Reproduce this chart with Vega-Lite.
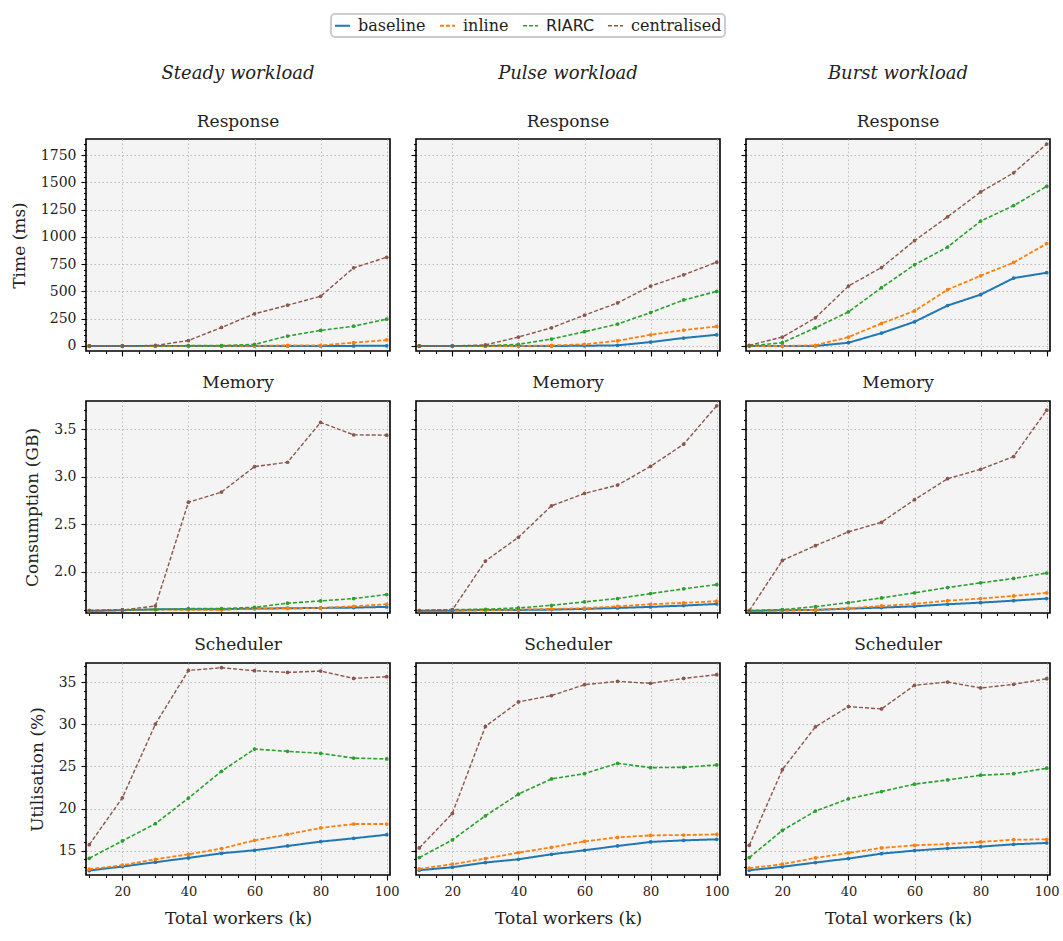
{
  "$schema": "https://vega.github.io/schema/vega-lite/v6.json",
  "background": "white",
  "padding": {"left": 9, "top": 13, "right": 2, "bottom": 5},
  "datasets": {
    "d": [
      {"w":"Steady","m":"Response","x":10,"baseline":0,"inline":0,"RIARC":0,"centralised":0},
      {"w":"Steady","m":"Response","x":20,"baseline":0,"inline":0,"RIARC":0,"centralised":0},
      {"w":"Steady","m":"Response","x":30,"baseline":0,"inline":0,"RIARC":2,"centralised":5},
      {"w":"Steady","m":"Response","x":40,"baseline":0,"inline":0,"RIARC":3,"centralised":50},
      {"w":"Steady","m":"Response","x":50,"baseline":0,"inline":2,"RIARC":3,"centralised":170},
      {"w":"Steady","m":"Response","x":60,"baseline":0,"inline":2,"RIARC":15,"centralised":295},
      {"w":"Steady","m":"Response","x":70,"baseline":0,"inline":5,"RIARC":91,"centralised":374},
      {"w":"Steady","m":"Response","x":80,"baseline":1,"inline":6,"RIARC":143,"centralised":456},
      {"w":"Steady","m":"Response","x":90,"baseline":1,"inline":30,"RIARC":182,"centralised":717},
      {"w":"Steady","m":"Response","x":100,"baseline":2,"inline":55,"RIARC":246,"centralised":814},
      {"w":"Pulse","m":"Response","x":10,"baseline":0,"inline":0,"RIARC":0,"centralised":0},
      {"w":"Pulse","m":"Response","x":20,"baseline":0,"inline":0,"RIARC":0,"centralised":0},
      {"w":"Pulse","m":"Response","x":30,"baseline":0,"inline":0,"RIARC":3,"centralised":10},
      {"w":"Pulse","m":"Response","x":40,"baseline":0,"inline":0,"RIARC":15,"centralised":82},
      {"w":"Pulse","m":"Response","x":50,"baseline":0,"inline":5,"RIARC":64,"centralised":167},
      {"w":"Pulse","m":"Response","x":60,"baseline":2,"inline":15,"RIARC":131,"centralised":283},
      {"w":"Pulse","m":"Response","x":70,"baseline":6,"inline":48,"RIARC":201,"centralised":395},
      {"w":"Pulse","m":"Response","x":80,"baseline":36,"inline":103,"RIARC":307,"centralised":550},
      {"w":"Pulse","m":"Response","x":90,"baseline":73,"inline":146,"RIARC":422,"centralised":653},
      {"w":"Pulse","m":"Response","x":100,"baseline":103,"inline":179,"RIARC":501,"centralised":769},
      {"w":"Burst","m":"Response","x":10,"baseline":0,"inline":0,"RIARC":0,"centralised":6},
      {"w":"Burst","m":"Response","x":20,"baseline":0,"inline":0,"RIARC":30,"centralised":82},
      {"w":"Burst","m":"Response","x":30,"baseline":0,"inline":6,"RIARC":167,"centralised":258},
      {"w":"Burst","m":"Response","x":40,"baseline":30,"inline":82,"RIARC":313,"centralised":550},
      {"w":"Burst","m":"Response","x":50,"baseline":118,"inline":207,"RIARC":535,"centralised":720},
      {"w":"Burst","m":"Response","x":60,"baseline":222,"inline":322,"RIARC":745,"centralised":966},
      {"w":"Burst","m":"Response","x":70,"baseline":371,"inline":517,"RIARC":908,"centralised":1185},
      {"w":"Burst","m":"Response","x":80,"baseline":471,"inline":644,"RIARC":1146,"centralised":1413},
      {"w":"Burst","m":"Response","x":90,"baseline":623,"inline":766,"RIARC":1288,"centralised":1589},
      {"w":"Burst","m":"Response","x":100,"baseline":672,"inline":939,"RIARC":1465,"centralised":1853},
      {"w":"Steady","m":"Memory","x":10,"baseline":1.589,"inline":1.592,"RIARC":1.592,"centralised":1.592},
      {"w":"Steady","m":"Memory","x":20,"baseline":1.596,"inline":1.597,"RIARC":1.599,"centralised":1.599},
      {"w":"Steady","m":"Memory","x":30,"baseline":1.606,"inline":1.603,"RIARC":1.603,"centralised":1.641},
      {"w":"Steady","m":"Memory","x":40,"baseline":1.606,"inline":1.600,"RIARC":1.613,"centralised":2.732},
      {"w":"Steady","m":"Memory","x":50,"baseline":1.606,"inline":1.600,"RIARC":1.613,"centralised":2.838},
      {"w":"Steady","m":"Memory","x":60,"baseline":1.613,"inline":1.613,"RIARC":1.627,"centralised":3.106},
      {"w":"Steady","m":"Memory","x":70,"baseline":1.617,"inline":1.615,"RIARC":1.670,"centralised":3.152},
      {"w":"Steady","m":"Memory","x":80,"baseline":1.620,"inline":1.620,"RIARC":1.694,"centralised":3.571},
      {"w":"Steady","m":"Memory","x":90,"baseline":1.624,"inline":1.637,"RIARC":1.719,"centralised":3.440},
      {"w":"Steady","m":"Memory","x":100,"baseline":1.631,"inline":1.659,"RIARC":1.761,"centralised":3.437},
      {"w":"Pulse","m":"Memory","x":10,"baseline":1.589,"inline":1.592,"RIARC":1.592,"centralised":1.592},
      {"w":"Pulse","m":"Memory","x":20,"baseline":1.592,"inline":1.599,"RIARC":1.603,"centralised":1.599},
      {"w":"Pulse","m":"Memory","x":30,"baseline":1.599,"inline":1.594,"RIARC":1.606,"centralised":2.113},
      {"w":"Pulse","m":"Memory","x":40,"baseline":1.599,"inline":1.603,"RIARC":1.620,"centralised":2.363},
      {"w":"Pulse","m":"Memory","x":50,"baseline":1.603,"inline":1.610,"RIARC":1.648,"centralised":2.694},
      {"w":"Pulse","m":"Memory","x":60,"baseline":1.610,"inline":1.617,"RIARC":1.684,"centralised":2.824},
      {"w":"Pulse","m":"Memory","x":70,"baseline":1.620,"inline":1.637,"RIARC":1.719,"centralised":2.912},
      {"w":"Pulse","m":"Memory","x":80,"baseline":1.631,"inline":1.659,"RIARC":1.771,"centralised":3.109},
      {"w":"Pulse","m":"Memory","x":90,"baseline":1.645,"inline":1.673,"RIARC":1.821,"centralised":3.342},
      {"w":"Pulse","m":"Memory","x":100,"baseline":1.662,"inline":1.691,"RIARC":1.866,"centralised":3.746},
      {"w":"Burst","m":"Memory","x":10,"baseline":1.589,"inline":1.592,"RIARC":1.592,"centralised":1.592},
      {"w":"Burst","m":"Memory","x":20,"baseline":1.596,"inline":1.592,"RIARC":1.603,"centralised":2.120},
      {"w":"Burst","m":"Memory","x":30,"baseline":1.599,"inline":1.599,"RIARC":1.634,"centralised":2.275},
      {"w":"Burst","m":"Memory","x":40,"baseline":1.613,"inline":1.617,"RIARC":1.676,"centralised":2.420},
      {"w":"Burst","m":"Memory","x":50,"baseline":1.624,"inline":1.641,"RIARC":1.726,"centralised":2.521},
      {"w":"Burst","m":"Memory","x":60,"baseline":1.637,"inline":1.662,"RIARC":1.779,"centralised":2.758},
      {"w":"Burst","m":"Memory","x":70,"baseline":1.659,"inline":1.697,"RIARC":1.835,"centralised":2.979},
      {"w":"Burst","m":"Memory","x":80,"baseline":1.676,"inline":1.719,"RIARC":1.884,"centralised":3.078},
      {"w":"Burst","m":"Memory","x":90,"baseline":1.697,"inline":1.747,"RIARC":1.930,"centralised":3.212},
      {"w":"Burst","m":"Memory","x":100,"baseline":1.719,"inline":1.779,"RIARC":1.987,"centralised":3.700},
      {"w":"Steady","m":"Scheduler","x":10,"baseline":12.63,"inline":12.79,"RIARC":14.09,"centralised":15.71},
      {"w":"Steady","m":"Scheduler","x":20,"baseline":13.11,"inline":13.26,"RIARC":16.15,"centralised":21.27},
      {"w":"Steady","m":"Scheduler","x":30,"baseline":13.62,"inline":13.97,"RIARC":18.20,"centralised":30.03},
      {"w":"Steady","m":"Scheduler","x":40,"baseline":14.13,"inline":14.56,"RIARC":21.24,"centralised":36.42},
      {"w":"Steady","m":"Scheduler","x":50,"baseline":14.68,"inline":15.24,"RIARC":24.43,"centralised":36.74},
      {"w":"Steady","m":"Scheduler","x":60,"baseline":15.04,"inline":16.22,"RIARC":27.07,"centralised":36.38},
      {"w":"Steady","m":"Scheduler","x":70,"baseline":15.55,"inline":16.93,"RIARC":26.80,"centralised":36.18},
      {"w":"Steady","m":"Scheduler","x":80,"baseline":16.07,"inline":17.69,"RIARC":26.56,"centralised":36.34},
      {"w":"Steady","m":"Scheduler","x":90,"baseline":16.46,"inline":18.16,"RIARC":26.00,"centralised":35.47},
      {"w":"Steady","m":"Scheduler","x":100,"baseline":16.89,"inline":18.16,"RIARC":25.89,"centralised":35.67},
      {"w":"Pulse","m":"Scheduler","x":10,"baseline":12.67,"inline":12.83,"RIARC":14.17,"centralised":15.32},
      {"w":"Pulse","m":"Scheduler","x":20,"baseline":13.02,"inline":13.38,"RIARC":16.27,"centralised":19.42},
      {"w":"Pulse","m":"Scheduler","x":30,"baseline":13.58,"inline":14.05,"RIARC":19.14,"centralised":29.76},
      {"w":"Pulse","m":"Scheduler","x":40,"baseline":13.97,"inline":14.76,"RIARC":21.71,"centralised":32.67},
      {"w":"Pulse","m":"Scheduler","x":50,"baseline":14.56,"inline":15.39,"RIARC":23.52,"centralised":33.43},
      {"w":"Pulse","m":"Scheduler","x":60,"baseline":15.04,"inline":16.10,"RIARC":24.15,"centralised":34.72},
      {"w":"Pulse","m":"Scheduler","x":70,"baseline":15.55,"inline":16.57,"RIARC":25.38,"centralised":35.12},
      {"w":"Pulse","m":"Scheduler","x":80,"baseline":16.03,"inline":16.81,"RIARC":24.86,"centralised":34.88},
      {"w":"Pulse","m":"Scheduler","x":90,"baseline":16.22,"inline":16.85,"RIARC":24.90,"centralised":35.47},
      {"w":"Pulse","m":"Scheduler","x":100,"baseline":16.34,"inline":16.93,"RIARC":25.18,"centralised":35.91},
      {"w":"Burst","m":"Scheduler","x":10,"baseline":12.67,"inline":12.91,"RIARC":14.17,"centralised":15.63},
      {"w":"Burst","m":"Scheduler","x":20,"baseline":13.07,"inline":13.38,"RIARC":17.40,"centralised":24.62},
      {"w":"Burst","m":"Scheduler","x":30,"baseline":13.58,"inline":14.13,"RIARC":19.70,"centralised":29.71},
      {"w":"Burst","m":"Scheduler","x":40,"baseline":14.05,"inline":14.72,"RIARC":21.15,"centralised":32.12},
      {"w":"Burst","m":"Scheduler","x":50,"baseline":14.64,"inline":15.32,"RIARC":22.02,"centralised":31.84},
      {"w":"Burst","m":"Scheduler","x":60,"baseline":15.00,"inline":15.63,"RIARC":22.90,"centralised":34.65},
      {"w":"Burst","m":"Scheduler","x":70,"baseline":15.27,"inline":15.79,"RIARC":23.40,"centralised":35.04},
      {"w":"Burst","m":"Scheduler","x":80,"baseline":15.47,"inline":16.03,"RIARC":23.96,"centralised":34.33},
      {"w":"Burst","m":"Scheduler","x":90,"baseline":15.75,"inline":16.30,"RIARC":24.15,"centralised":34.76},
      {"w":"Burst","m":"Scheduler","x":100,"baseline":15.91,"inline":16.34,"RIARC":24.79,"centralised":35.43}
    ]
  },
  "data": {"name": "d"},
  "columns": 3,
  "spacing": {"row": 15, "column": 9},
  "concat": [
    {
      "width": 304, "height": 212,
      "title": {"text": "Steady workload", "subtitle": "Response", "fontStyle": "italic", "fontSize": 18, "subtitlePadding": 31},
      "transform": [{"filter": "datum.w == 'Steady' && datum.m == 'Response'"}, {"fold": ["baseline", "inline", "RIARC", "centralised"], "as": ["series", "v"]}],
      "layer": [
        {"mark": {"type": "line", "clip": true},
         "encoding": {
           "x": {"field": "x", "type": "quantitative", "scale": {"domain": [9, 101], "nice": false}, "axis": {"values": [20, 40, 60, 80, 100], "labels": false, "title": null}},
           "y": {"field": "v", "type": "quantitative", "scale": {"domain": [-46, 1899], "nice": false, "zero": false}, "axis": {"values": [0, 250, 500, 750, 1000, 1250, 1500, 1750], "format": "d", "title": "Time (ms)"}},
           "color": {"field": "series", "type": "nominal", "scale": {"domain": ["baseline", "inline", "RIARC", "centralised"], "range": ["#1f77b4", "#ff7f0e", "#2ca02c", "#8c564b"]}, "legend": {"title": null}},
           "strokeDash": {"field": "series", "type": "nominal", "scale": {"domain": ["baseline", "inline", "RIARC", "centralised"], "range": [[1, 0], [4, 2], [4, 2], [4, 2]]}, "legend": {"title": null}},
           "strokeWidth": {"field": "series", "type": "nominal", "scale": {"domain": ["baseline", "inline", "RIARC", "centralised"], "range": [2, 1.4, 1.2, 1]}, "legend": null}
         }},
        {"mark": {"type": "circle", "size": 14, "opacity": 1},
         "encoding": {
           "x": {"field": "x", "type": "quantitative", "axis": {"orient": "bottom", "values": [10, 15, 20, 25, 30, 35, 40, 45, 50, 55, 60, 65, 70, 75, 80, 85, 90, 95, 100], "labels": false, "title": null, "grid": false, "tickSize": 2.5}},
           "y": {"field": "v", "type": "quantitative", "axis": {"orient": "left", "values": [0, 50, 100, 150, 200, 250, 300, 350, 400, 450, 500, 550, 600, 650, 700, 750, 800, 850, 900, 950, 1000, 1050, 1100, 1150, 1200, 1250, 1300, 1350, 1400, 1450, 1500, 1550, 1600, 1650, 1700, 1750, 1800, 1850], "labels": false, "title": null, "grid": false, "tickSize": 2.5}},
           "fill": {"field": "series", "type": "nominal", "scale": {"domain": ["baseline", "inline", "RIARC", "centralised"], "range": ["#1f77b4", "#ff7f0e", "#2ca02c", "#8c564b"]}, "legend": null}
         }}
      ],
      "resolve": {"axis": {"x": "independent", "y": "independent"}}
    },
    {
      "width": 304, "height": 212,
      "title": {"text": "Pulse workload", "subtitle": "Response", "fontStyle": "italic", "fontSize": 18, "subtitlePadding": 31},
      "transform": [{"filter": "datum.w == 'Pulse' && datum.m == 'Response'"}, {"fold": ["baseline", "inline", "RIARC", "centralised"], "as": ["series", "v"]}],
      "layer": [
        {"mark": {"type": "line", "clip": true},
         "encoding": {
           "x": {"field": "x", "type": "quantitative", "scale": {"domain": [9, 101], "nice": false}, "axis": {"values": [20, 40, 60, 80, 100], "labels": false, "title": null}},
           "y": {"field": "v", "type": "quantitative", "scale": {"domain": [-46, 1899], "nice": false, "zero": false}, "axis": {"values": [0, 250, 500, 750, 1000, 1250, 1500, 1750], "labels": false, "title": null}},
           "color": {"field": "series", "type": "nominal", "legend": {"title": null}},
           "strokeDash": {"field": "series", "type": "nominal", "legend": {"title": null}},
           "strokeWidth": {"field": "series", "type": "nominal", "legend": null}
         }},
        {"mark": {"type": "circle", "size": 14, "opacity": 1},
         "encoding": {
           "x": {"field": "x", "type": "quantitative", "axis": {"orient": "bottom", "values": [10, 15, 20, 25, 30, 35, 40, 45, 50, 55, 60, 65, 70, 75, 80, 85, 90, 95, 100], "labels": false, "title": null, "grid": false, "tickSize": 2.5}},
           "y": {"field": "v", "type": "quantitative", "axis": {"orient": "left", "values": [0, 50, 100, 150, 200, 250, 300, 350, 400, 450, 500, 550, 600, 650, 700, 750, 800, 850, 900, 950, 1000, 1050, 1100, 1150, 1200, 1250, 1300, 1350, 1400, 1450, 1500, 1550, 1600, 1650, 1700, 1750, 1800, 1850], "labels": false, "title": null, "grid": false, "tickSize": 2.5}},
           "fill": {"field": "series", "type": "nominal", "legend": null}
         }}
      ],
      "resolve": {"axis": {"x": "independent", "y": "independent"}}
    },
    {
      "width": 304, "height": 212,
      "title": {"text": "Burst workload", "subtitle": "Response", "fontStyle": "italic", "fontSize": 18, "subtitlePadding": 31},
      "transform": [{"filter": "datum.w == 'Burst' && datum.m == 'Response'"}, {"fold": ["baseline", "inline", "RIARC", "centralised"], "as": ["series", "v"]}],
      "layer": [
        {"mark": {"type": "line", "clip": true},
         "encoding": {
           "x": {"field": "x", "type": "quantitative", "scale": {"domain": [9, 101], "nice": false}, "axis": {"values": [20, 40, 60, 80, 100], "labels": false, "title": null}},
           "y": {"field": "v", "type": "quantitative", "scale": {"domain": [-46, 1899], "nice": false, "zero": false}, "axis": {"values": [0, 250, 500, 750, 1000, 1250, 1500, 1750], "labels": false, "title": null}},
           "color": {"field": "series", "type": "nominal", "legend": {"title": null}},
           "strokeDash": {"field": "series", "type": "nominal", "legend": {"title": null}},
           "strokeWidth": {"field": "series", "type": "nominal", "legend": null}
         }},
        {"mark": {"type": "circle", "size": 14, "opacity": 1},
         "encoding": {
           "x": {"field": "x", "type": "quantitative", "axis": {"orient": "bottom", "values": [10, 15, 20, 25, 30, 35, 40, 45, 50, 55, 60, 65, 70, 75, 80, 85, 90, 95, 100], "labels": false, "title": null, "grid": false, "tickSize": 2.5}},
           "y": {"field": "v", "type": "quantitative", "axis": {"orient": "left", "values": [0, 50, 100, 150, 200, 250, 300, 350, 400, 450, 500, 550, 600, 650, 700, 750, 800, 850, 900, 950, 1000, 1050, 1100, 1150, 1200, 1250, 1300, 1350, 1400, 1450, 1500, 1550, 1600, 1650, 1700, 1750, 1800, 1850], "labels": false, "title": null, "grid": false, "tickSize": 2.5}},
           "fill": {"field": "series", "type": "nominal", "legend": null}
         }}
      ],
      "resolve": {"axis": {"x": "independent", "y": "independent"}}
    },
    {
      "width": 304, "height": 212,
      "title": {"text": "Memory"},
      "transform": [{"filter": "datum.w == 'Steady' && datum.m == 'Memory'"}, {"fold": ["baseline", "inline", "RIARC", "centralised"], "as": ["series", "v"]}],
      "layer": [
        {"mark": {"type": "line", "clip": true},
         "encoding": {
           "x": {"field": "x", "type": "quantitative", "scale": {"domain": [9, 101], "nice": false}, "axis": {"values": [20, 40, 60, 80, 100], "labels": false, "title": null}},
           "y": {"field": "v", "type": "quantitative", "scale": {"domain": [1.567, 3.796], "nice": false, "zero": false}, "axis": {"values": [2.0, 2.5, 3.0, 3.5], "format": ".1f", "title": "Consumption (GB)"}},
           "color": {"field": "series", "type": "nominal", "legend": {"title": null}},
           "strokeDash": {"field": "series", "type": "nominal", "legend": {"title": null}},
           "strokeWidth": {"field": "series", "type": "nominal", "legend": null}
         }},
        {"mark": {"type": "circle", "size": 14, "opacity": 1},
         "encoding": {
           "x": {"field": "x", "type": "quantitative", "axis": {"orient": "bottom", "values": [10, 15, 20, 25, 30, 35, 40, 45, 50, 55, 60, 65, 70, 75, 80, 85, 90, 95, 100], "labels": false, "title": null, "grid": false, "tickSize": 2.5}},
           "y": {"field": "v", "type": "quantitative", "axis": {"orient": "left", "values": [1.6, 1.7, 1.8, 1.9, 2.0, 2.1, 2.2, 2.3, 2.4, 2.5, 2.6, 2.7, 2.8, 2.9, 3.0, 3.1, 3.2, 3.3, 3.4, 3.5, 3.6, 3.7], "labels": false, "title": null, "grid": false, "tickSize": 2.5}},
           "fill": {"field": "series", "type": "nominal", "legend": null}
         }}
      ],
      "resolve": {"axis": {"x": "independent", "y": "independent"}}
    },
    {
      "width": 304, "height": 212,
      "title": {"text": "Memory"},
      "transform": [{"filter": "datum.w == 'Pulse' && datum.m == 'Memory'"}, {"fold": ["baseline", "inline", "RIARC", "centralised"], "as": ["series", "v"]}],
      "layer": [
        {"mark": {"type": "line", "clip": true},
         "encoding": {
           "x": {"field": "x", "type": "quantitative", "scale": {"domain": [9, 101], "nice": false}, "axis": {"values": [20, 40, 60, 80, 100], "labels": false, "title": null}},
           "y": {"field": "v", "type": "quantitative", "scale": {"domain": [1.567, 3.796], "nice": false, "zero": false}, "axis": {"values": [2.0, 2.5, 3.0, 3.5], "labels": false, "title": null}},
           "color": {"field": "series", "type": "nominal", "legend": {"title": null}},
           "strokeDash": {"field": "series", "type": "nominal", "legend": {"title": null}},
           "strokeWidth": {"field": "series", "type": "nominal", "legend": null}
         }},
        {"mark": {"type": "circle", "size": 14, "opacity": 1},
         "encoding": {
           "x": {"field": "x", "type": "quantitative", "axis": {"orient": "bottom", "values": [10, 15, 20, 25, 30, 35, 40, 45, 50, 55, 60, 65, 70, 75, 80, 85, 90, 95, 100], "labels": false, "title": null, "grid": false, "tickSize": 2.5}},
           "y": {"field": "v", "type": "quantitative", "axis": {"orient": "left", "values": [1.6, 1.7, 1.8, 1.9, 2.0, 2.1, 2.2, 2.3, 2.4, 2.5, 2.6, 2.7, 2.8, 2.9, 3.0, 3.1, 3.2, 3.3, 3.4, 3.5, 3.6, 3.7], "labels": false, "title": null, "grid": false, "tickSize": 2.5}},
           "fill": {"field": "series", "type": "nominal", "legend": null}
         }}
      ],
      "resolve": {"axis": {"x": "independent", "y": "independent"}}
    },
    {
      "width": 304, "height": 212,
      "title": {"text": "Memory"},
      "transform": [{"filter": "datum.w == 'Burst' && datum.m == 'Memory'"}, {"fold": ["baseline", "inline", "RIARC", "centralised"], "as": ["series", "v"]}],
      "layer": [
        {"mark": {"type": "line", "clip": true},
         "encoding": {
           "x": {"field": "x", "type": "quantitative", "scale": {"domain": [9, 101], "nice": false}, "axis": {"values": [20, 40, 60, 80, 100], "labels": false, "title": null}},
           "y": {"field": "v", "type": "quantitative", "scale": {"domain": [1.567, 3.796], "nice": false, "zero": false}, "axis": {"values": [2.0, 2.5, 3.0, 3.5], "labels": false, "title": null}},
           "color": {"field": "series", "type": "nominal", "legend": {"title": null}},
           "strokeDash": {"field": "series", "type": "nominal", "legend": {"title": null}},
           "strokeWidth": {"field": "series", "type": "nominal", "legend": null}
         }},
        {"mark": {"type": "circle", "size": 14, "opacity": 1},
         "encoding": {
           "x": {"field": "x", "type": "quantitative", "axis": {"orient": "bottom", "values": [10, 15, 20, 25, 30, 35, 40, 45, 50, 55, 60, 65, 70, 75, 80, 85, 90, 95, 100], "labels": false, "title": null, "grid": false, "tickSize": 2.5}},
           "y": {"field": "v", "type": "quantitative", "axis": {"orient": "left", "values": [1.6, 1.7, 1.8, 1.9, 2.0, 2.1, 2.2, 2.3, 2.4, 2.5, 2.6, 2.7, 2.8, 2.9, 3.0, 3.1, 3.2, 3.3, 3.4, 3.5, 3.6, 3.7], "labels": false, "title": null, "grid": false, "tickSize": 2.5}},
           "fill": {"field": "series", "type": "nominal", "legend": null}
         }}
      ],
      "resolve": {"axis": {"x": "independent", "y": "independent"}}
    },
    {
      "width": 304, "height": 212,
      "title": {"text": "Scheduler"},
      "transform": [{"filter": "datum.w == 'Steady' && datum.m == 'Scheduler'"}, {"fold": ["baseline", "inline", "RIARC", "centralised"], "as": ["series", "v"]}],
      "layer": [
        {"mark": {"type": "line", "clip": true},
         "encoding": {
           "x": {"field": "x", "type": "quantitative", "scale": {"domain": [9, 101], "nice": false}, "axis": {"values": [20, 40, 60, 80, 100], "title": "Total workers (k)"}},
           "y": {"field": "v", "type": "quantitative", "scale": {"domain": [12.1, 37.3], "nice": false, "zero": false}, "axis": {"values": [15, 20, 25, 30, 35], "title": "Utilisation (%)"}},
           "color": {"field": "series", "type": "nominal", "legend": {"title": null}},
           "strokeDash": {"field": "series", "type": "nominal", "legend": {"title": null}},
           "strokeWidth": {"field": "series", "type": "nominal", "legend": null}
         }},
        {"mark": {"type": "circle", "size": 14, "opacity": 1},
         "encoding": {
           "x": {"field": "x", "type": "quantitative", "axis": {"orient": "bottom", "values": [10, 15, 20, 25, 30, 35, 40, 45, 50, 55, 60, 65, 70, 75, 80, 85, 90, 95, 100], "labels": false, "title": null, "grid": false, "tickSize": 2.5}},
           "y": {"field": "v", "type": "quantitative", "axis": {"orient": "left", "values": [13, 14, 15, 16, 17, 18, 19, 20, 21, 22, 23, 24, 25, 26, 27, 28, 29, 30, 31, 32, 33, 34, 35, 36, 37], "labels": false, "title": null, "grid": false, "tickSize": 2.5}},
           "fill": {"field": "series", "type": "nominal", "legend": null}
         }}
      ],
      "resolve": {"axis": {"x": "independent", "y": "independent"}}
    },
    {
      "width": 304, "height": 212,
      "title": {"text": "Scheduler"},
      "transform": [{"filter": "datum.w == 'Pulse' && datum.m == 'Scheduler'"}, {"fold": ["baseline", "inline", "RIARC", "centralised"], "as": ["series", "v"]}],
      "layer": [
        {"mark": {"type": "line", "clip": true},
         "encoding": {
           "x": {"field": "x", "type": "quantitative", "scale": {"domain": [9, 101], "nice": false}, "axis": {"values": [20, 40, 60, 80, 100], "title": "Total workers (k)"}},
           "y": {"field": "v", "type": "quantitative", "scale": {"domain": [12.1, 37.3], "nice": false, "zero": false}, "axis": {"values": [15, 20, 25, 30, 35], "labels": false, "title": null}},
           "color": {"field": "series", "type": "nominal", "legend": {"title": null}},
           "strokeDash": {"field": "series", "type": "nominal", "legend": {"title": null}},
           "strokeWidth": {"field": "series", "type": "nominal", "legend": null}
         }},
        {"mark": {"type": "circle", "size": 14, "opacity": 1},
         "encoding": {
           "x": {"field": "x", "type": "quantitative", "axis": {"orient": "bottom", "values": [10, 15, 20, 25, 30, 35, 40, 45, 50, 55, 60, 65, 70, 75, 80, 85, 90, 95, 100], "labels": false, "title": null, "grid": false, "tickSize": 2.5}},
           "y": {"field": "v", "type": "quantitative", "axis": {"orient": "left", "values": [13, 14, 15, 16, 17, 18, 19, 20, 21, 22, 23, 24, 25, 26, 27, 28, 29, 30, 31, 32, 33, 34, 35, 36, 37], "labels": false, "title": null, "grid": false, "tickSize": 2.5}},
           "fill": {"field": "series", "type": "nominal", "legend": null}
         }}
      ],
      "resolve": {"axis": {"x": "independent", "y": "independent"}}
    },
    {
      "width": 304, "height": 212,
      "title": {"text": "Scheduler"},
      "transform": [{"filter": "datum.w == 'Burst' && datum.m == 'Scheduler'"}, {"fold": ["baseline", "inline", "RIARC", "centralised"], "as": ["series", "v"]}],
      "layer": [
        {"mark": {"type": "line", "clip": true},
         "encoding": {
           "x": {"field": "x", "type": "quantitative", "scale": {"domain": [9, 101], "nice": false}, "axis": {"values": [20, 40, 60, 80, 100], "title": "Total workers (k)"}},
           "y": {"field": "v", "type": "quantitative", "scale": {"domain": [12.1, 37.3], "nice": false, "zero": false}, "axis": {"values": [15, 20, 25, 30, 35], "labels": false, "title": null}},
           "color": {"field": "series", "type": "nominal", "legend": {"title": null}},
           "strokeDash": {"field": "series", "type": "nominal", "legend": {"title": null}},
           "strokeWidth": {"field": "series", "type": "nominal", "legend": null}
         }},
        {"mark": {"type": "circle", "size": 14, "opacity": 1},
         "encoding": {
           "x": {"field": "x", "type": "quantitative", "axis": {"orient": "bottom", "values": [10, 15, 20, 25, 30, 35, 40, 45, 50, 55, 60, 65, 70, 75, 80, 85, 90, 95, 100], "labels": false, "title": null, "grid": false, "tickSize": 2.5}},
           "y": {"field": "v", "type": "quantitative", "axis": {"orient": "left", "values": [13, 14, 15, 16, 17, 18, 19, 20, 21, 22, 23, 24, 25, 26, 27, 28, 29, 30, 31, 32, 33, 34, 35, 36, 37], "labels": false, "title": null, "grid": false, "tickSize": 2.5}},
           "fill": {"field": "series", "type": "nominal", "legend": null}
         }}
      ],
      "resolve": {"axis": {"x": "independent", "y": "independent"}}
    }
  ],
  "resolve": {"scale": {"x": "independent", "y": "independent"}},
  "config": {
    "font": "DejaVu Serif",
    "view": {"stroke": "black", "strokeWidth": 1.6, "fill": "#f4f4f4"},
    "axis": {"domain": false, "grid": true, "gridColor": "#b5b5b5", "gridDash": [1.5, 2.5], "gridWidth": 0.9, "tickColor": "black", "tickSize": 5, "tickWidth": 1.1, "labelFont": "DejaVu Serif", "labelFontSize": 14, "labelColor": "#222", "titleFont": "DejaVu Serif", "titleFontSize": 17, "titleFontWeight": "normal", "titleColor": "#222", "labelPadding": 5, "titlePadding": 12},
    "axisX": {"labelFontSize": 13},
    "title": {"font": "DejaVu Serif", "fontSize": 17, "fontWeight": "normal", "color": "#222", "subtitleFont": "DejaVu Serif", "subtitleFontSize": 17, "subtitleFontStyle": "normal", "subtitleColor": "#222", "frame": "group", "anchor": "middle", "offset": 9},
    "legend": {"orient": "none", "legendX": 245, "legendY": -125, "direction": "horizontal", "symbolType": "stroke", "symbolSize": 225, "symbolStrokeWidth": 1.5, "labelFont": {"expr": "datum.label === 'RIARC' ? 'DejaVu Sans' : 'DejaVu Serif'"}, "labelFontSize": 16, "labelColor": "#222", "strokeColor": "#cccccc", "strokeWidth": 2, "cornerRadius": 4, "padding": 3, "fillColor": "white", "columnPadding": 10, "labelOffset": 7}
  }
}
